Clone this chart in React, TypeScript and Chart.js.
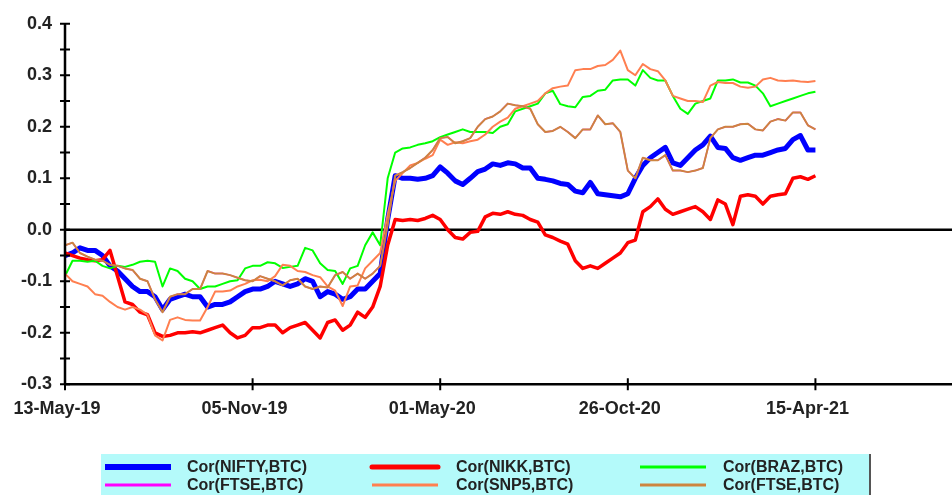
import React, { useEffect, useRef } from "react";
import { Chart, registerables } from "chart.js";

Chart.register(...registerables);

// ---- data (one point every 5 trading days, starting 13-May-19) ----
const STEP = 5;
const TICK_DAYS = [0, 125, 250, 375, 500];
const TICK_LABELS = ["13-May-19", "05-Nov-19", "01-May-20", "26-Oct-20", "15-Apr-21"];

const NIFTY = [
  -0.05, -0.045, -0.035, -0.04, -0.04, -0.05, -0.07, -0.08, -0.095, -0.11,
  -0.12, -0.12, -0.13, -0.155, -0.135, -0.13, -0.125, -0.13, -0.13, -0.15,
  -0.145, -0.145, -0.14, -0.13, -0.12, -0.115, -0.115, -0.11, -0.1, -0.105,
  -0.11, -0.105, -0.095, -0.1, -0.13, -0.12, -0.125, -0.135, -0.13, -0.115,
  -0.115, -0.1, -0.085, 0.02, 0.105, 0.1, 0.1, 0.098, 0.1, 0.105,
  0.122, 0.11, 0.095, 0.088, 0.1, 0.113, 0.118, 0.128, 0.125, 0.13,
  0.128, 0.12, 0.12, 0.1, 0.098, 0.095, 0.09, 0.088, 0.075, 0.072,
  0.092, 0.07, 0.068, 0.066, 0.064, 0.07, 0.1, 0.125, 0.14, 0.15,
  0.16, 0.13, 0.125, 0.14, 0.155, 0.165, 0.182, 0.16, 0.158, 0.14,
  0.135, 0.14, 0.145, 0.145, 0.15, 0.155, 0.158, 0.175, 0.183, 0.155,
  0.155,
];

const NIKK = [
  -0.045, -0.05, -0.055, -0.058, -0.06, -0.058, -0.04, -0.09, -0.14, -0.145,
  -0.16, -0.165, -0.2, -0.207, -0.205, -0.2, -0.2, -0.198, -0.2, -0.195,
  -0.19, -0.185, -0.2, -0.21, -0.205, -0.19, -0.19, -0.185, -0.185, -0.2,
  -0.19, -0.185, -0.18, -0.195, -0.21, -0.18, -0.175, -0.195, -0.185, -0.16,
  -0.17, -0.15, -0.11, -0.03, 0.02, 0.018, 0.02, 0.018, 0.022, 0.028,
  0.02, 0.0, -0.015, -0.018, -0.005, -0.003, 0.025, 0.032, 0.03, 0.035,
  0.03, 0.028, 0.02, 0.015, -0.01, -0.015, -0.022, -0.028, -0.06, -0.075,
  -0.07, -0.075, -0.065, -0.055, -0.045, -0.025, -0.02, 0.035, 0.045, 0.06,
  0.04, 0.03, 0.035, 0.04, 0.045, 0.035, 0.02, 0.058, 0.05, 0.01,
  0.065, 0.068, 0.065, 0.05, 0.065, 0.068, 0.07, 0.1, 0.103, 0.098,
  0.105,
];

const BRAZ = [
  -0.09, -0.06, -0.06, -0.062, -0.06, -0.07, -0.075, -0.07, -0.072, -0.068,
  -0.062, -0.06, -0.062, -0.11, -0.075, -0.08, -0.095, -0.1, -0.115, -0.11,
  -0.11, -0.105, -0.1, -0.098, -0.075, -0.07, -0.07, -0.063, -0.065, -0.074,
  -0.072, -0.07, -0.035, -0.04, -0.065, -0.078, -0.08, -0.105, -0.075, -0.07,
  -0.03, -0.005, -0.03, 0.1, 0.15, 0.158, 0.16, 0.165, 0.168, 0.172,
  0.18, 0.185, 0.19, 0.195, 0.19, 0.19, 0.19, 0.188, 0.2, 0.205,
  0.23, 0.235, 0.24, 0.245, 0.265, 0.27, 0.244, 0.24, 0.238, 0.258,
  0.26, 0.27, 0.272, 0.29, 0.292, 0.292, 0.28, 0.31, 0.295, 0.29,
  0.29, 0.26, 0.235, 0.225, 0.245, 0.25, 0.255, 0.29, 0.29, 0.292,
  0.286, 0.286, 0.28, 0.265, 0.24, 0.245, 0.25, 0.255, 0.26, 0.265,
  0.268,
];

const SNP5 = [
  -0.085, -0.1, -0.105, -0.11, -0.125, -0.128, -0.14, -0.15, -0.155, -0.15,
  -0.155, -0.165, -0.205, -0.215, -0.175, -0.17, -0.175, -0.176, -0.176, -0.15,
  -0.12, -0.12, -0.118, -0.11, -0.105, -0.098, -0.097, -0.1, -0.09, -0.068,
  -0.07, -0.08, -0.082, -0.088, -0.092, -0.11, -0.118, -0.148, -0.11, -0.108,
  -0.075, -0.06, -0.045, 0.03, 0.095, 0.11, 0.125, 0.13, 0.138, 0.145,
  0.175, 0.165, 0.17, 0.168, 0.172, 0.175, 0.185, 0.2, 0.21, 0.218,
  0.235, 0.24, 0.245, 0.25, 0.265, 0.275, 0.278, 0.28, 0.31, 0.312,
  0.312, 0.318, 0.32, 0.33, 0.348, 0.31, 0.3, 0.322, 0.312, 0.308,
  0.29, 0.26, 0.255, 0.25, 0.25, 0.248, 0.28, 0.287, 0.285, 0.285,
  0.278, 0.276, 0.278, 0.292, 0.295, 0.29, 0.289, 0.29, 0.288, 0.287,
  0.289,
];

const FTSE = [
  -0.03, -0.025, -0.045, -0.052, -0.058, -0.06, -0.068, -0.07, -0.075, -0.078,
  -0.095, -0.1, -0.135, -0.16, -0.13, -0.125, -0.125, -0.115, -0.115, -0.08,
  -0.085, -0.085, -0.088, -0.093, -0.098, -0.1, -0.09, -0.095, -0.1, -0.108,
  -0.098, -0.095, -0.11, -0.115, -0.11, -0.112, -0.088, -0.082, -0.095, -0.085,
  -0.095, -0.085, -0.07, 0.01, 0.105, 0.112, 0.12, 0.13, 0.14, 0.155,
  0.178, 0.18, 0.168, 0.172, 0.178, 0.2, 0.215, 0.22, 0.23, 0.245,
  0.242, 0.24, 0.235, 0.205, 0.19, 0.192, 0.2, 0.19, 0.178, 0.195,
  0.195, 0.222, 0.205, 0.207, 0.19, 0.115, 0.1, 0.14, 0.135, 0.135,
  0.145, 0.115, 0.115, 0.112, 0.115, 0.12, 0.178, 0.195, 0.2, 0.2,
  0.205, 0.206, 0.195, 0.193, 0.21, 0.215, 0.212, 0.228, 0.228, 0.203,
  0.195,
];

const SERIES_LABELS = [
  "Cor(NIFTY,BTC)",
  "Cor(NIKK,BTC)",
  "Cor(BRAZ,BTC)",
  "Cor(FTSE,BTC)",
  "Cor(SNP5,BTC)",
  "Cor(FTSE,BTC)",
];

const FONT_FAMILY = '"Liberation Sans", Arial, sans-serif';
const TEXT_COLOR = "#222";

const toPoints = (arr: number[]) => arr.map((v, i) => ({ x: i * STEP, y: v }));

const decoPlugin = {
  id: "deco",
  beforeDatasetsDraw(chart: any) {
    const { ctx, chartArea, scales } = chart;
    const y0 = scales.y.getPixelForValue(0);
    ctx.save();
    ctx.strokeStyle = "#000";
    ctx.lineWidth = 2.5;
    ctx.beginPath();
    ctx.moveTo(chartArea.left, y0);
    ctx.lineTo(chartArea.right, y0);
    ctx.stroke();
    ctx.restore();
  },
  afterDatasetsDraw(chart: any) {
    const { ctx, chartArea, scales } = chart;
    const { left, right, top, bottom } = chartArea;
    ctx.save();
    ctx.strokeStyle = "#000";
    ctx.lineWidth = 2.5;
    ctx.beginPath();
    ctx.moveTo(left, top);
    ctx.lineTo(left, bottom);
    ctx.moveTo(left, bottom);
    ctx.lineTo(right, bottom);
    ctx.stroke();
    ctx.lineWidth = 2;
    ctx.beginPath();
    for (let j = -6; j <= 8; j++) {
      const py = scales.y.getPixelForValue(j * 0.05);
      ctx.moveTo(left - 5, py);
      ctx.lineTo(left + 5, py);
    }
    TICK_DAYS.forEach((d) => {
      const px = scales.x.getPixelForValue(d);
      ctx.moveTo(px, bottom - 6);
      ctx.lineTo(px, bottom + 6);
    });
    ctx.stroke();
    ctx.restore();
  },
  afterDraw(chart: any) {
    const { ctx } = chart;
    ctx.save();
    // legend box
    ctx.fillStyle = "#b4fafa";
    ctx.fillRect(101, 454, 769, 45);
    ctx.strokeStyle = "#555";
    ctx.lineWidth = 2;
    ctx.beginPath();
    ctx.moveTo(870, 454);
    ctx.lineTo(870, 495);
    ctx.stroke();
    const lineX = [105, 372, 640];
    const textX = [187, 456, 723];
    const rowY = [467, 485];
    ctx.font = `bold 16px ${FONT_FAMILY}`;
    ctx.textBaseline = "middle";
    ctx.textAlign = "left";
    chart.data.datasets.forEach((ds: any, i: number) => {
      const col = i % 3;
      const row = Math.floor(i / 3);
      ctx.strokeStyle = ds.borderColor;
      ctx.lineWidth = ds.legendLineWidth;
      ctx.lineCap = ds.legendCap;
      ctx.beginPath();
      ctx.moveTo(lineX[col], rowY[row]);
      ctx.lineTo(lineX[col] + 66, rowY[row]);
      ctx.stroke();
      ctx.fillStyle = TEXT_COLOR;
      ctx.fillText(ds.label, textX[col], rowY[row] + 1);
    });
    ctx.restore();
  },
};

export default function App() {
  const ref = useRef<HTMLCanvasElement | null>(null);

  useEffect(() => {
    if (!ref.current) return;
    const mk = (i: number, data: number[], color: string, width: number, legendWidth: number, cap: string) => ({
      label: SERIES_LABELS[i],
      data: toPoints(data),
      borderColor: color,
      backgroundColor: color,
      borderWidth: width,
      pointRadius: 0,
      tension: 0,
      fill: false,
      borderJoinStyle: "round",
      order: 5 - i,
      legendLineWidth: legendWidth,
      legendCap: cap,
    });
    const chart = new Chart(ref.current, {
      type: "line",
      data: {
        datasets: [
          mk(0, NIFTY, "#0000ff", 5, 6, "butt"),
          mk(1, NIKK, "#ff0000", 3.5, 5, "round"),
          mk(2, BRAZ, "#00ff00", 2, 3, "butt"),
          mk(3, FTSE, "#ff00ff", 1.5, 3, "butt"),
          mk(4, SNP5, "#ff7f50", 2, 3, "butt"),
          mk(5, FTSE, "#cd853f", 2, 3, "butt"),
        ] as any,
      },
      options: {
        responsive: false,
        animation: false,
        layout: { padding: { top: 20.7, bottom: 70.7, left: 0, right: 0 } },
        plugins: { legend: { display: false }, tooltip: { enabled: false } },
        scales: {
          x: {
            type: "linear",
            min: 0,
            max: 591,
            afterFit: (s: any) => {
              s.height = 40;
            },
            afterBuildTicks: (s: any) => {
              s.ticks = TICK_DAYS.map((v) => ({ value: v }));
            },
            grid: { display: false, drawTicks: false },
            border: { display: false },
            ticks: {
              padding: 14,
              labelOffset: -8,
              maxRotation: 0,
              autoSkip: false,
              color: TEXT_COLOR,
              font: { family: FONT_FAMILY, size: 18, weight: "bold" },
              callback: (v: any) => {
                const k = TICK_DAYS.indexOf(Number(v));
                return k >= 0 ? TICK_LABELS[k] : "";
              },
            },
          },
          y: {
            type: "linear",
            min: -0.3,
            max: 0.4,
            afterFit: (s: any) => {
              s.width = 65;
            },
            grid: { display: false, drawTicks: false },
            border: { display: false },
            ticks: {
              stepSize: 0.1,
              padding: 13,
              color: TEXT_COLOR,
              font: { family: FONT_FAMILY, size: 18, weight: "bold" },
              callback: (v: any) => {
                const r = Math.round(Number(v) * 10) / 10;
                return (r === 0 ? 0 : r).toFixed(1);
              },
            },
          },
        },
      } as any,
      plugins: [decoPlugin],
    });
    return () => chart.destroy();
  }, []);

  return (
    <canvas
      ref={ref}
      width={952}
      height={495}
      style={{ position: "fixed", left: 0, top: 0, display: "block" }}
    />
  );
}
